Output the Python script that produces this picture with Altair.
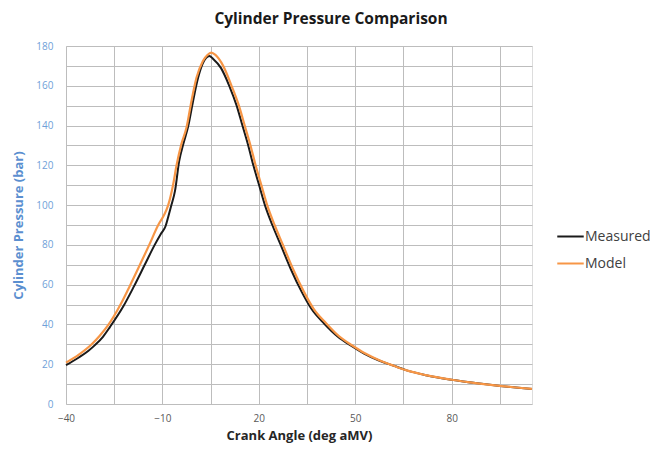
import altair as alt
import pandas as pd

# Model (orange) series
model_angle = [-40, -36, -32, -29.5, -26.9, -23.2, -20.1, -17, -14.1, -11.3, -9.5, -8.2, -6.7,
               -5.6, -4.1, -2.5, -1, 0.6, 2.6, 4, 5.2, 6.5, 8.9, 11.5, 13.8, 15.6, 17.4, 19,
               20.8, 22.6, 24.9, 27.5, 30.6, 34, 37, 41, 45, 49.2, 53, 57.5, 62, 66, 72, 80,
               88, 95, 100, 105]
model_p = [20.8, 24.8, 30, 34.3, 39.6, 49.5, 59.5, 70, 80, 90, 95, 100, 110,
           120, 130.7, 139, 152, 164, 172.5, 175.5, 176.7, 175.5, 170, 160, 150, 140, 130, 120,
           110, 100, 90, 80, 68, 56.5, 48, 40.5, 34, 29.3, 25.5, 22, 19.2, 16.9, 14.5, 12.2,
           10.4, 9.1, 8.3, 7.6]

# Measured (black) series
meas_angle = [-40, -36, -33, -31, -28.5, -26.3, -22.2, -18.9, -15.5, -12.4, -10.5, -9, -8.2,
              -7.2, -6.1, -4.8, -3.5, -2, -0.5, 1.1, 2.5, 3.6, 4.6, 5.8, 8.2, 10.8, 13.1, 14.9,
              16.7, 18.3, 20.1, 21.9, 24.2, 26.8, 29.9, 33.3, 36.3, 40.3, 44.5, 48.7, 52.6,
              57.2, 62, 66, 72, 80, 88, 95, 100, 105]
meas_p = [19.5, 23.4, 26.8, 29.6, 33.8, 38.8, 49, 59, 70, 80, 85.5, 89.5, 94,
          100, 107, 122, 130.7, 139.5, 152, 164, 171, 174, 175, 173.5, 169, 160, 150, 140,
          130, 120, 110, 100, 90, 80, 68, 56.5, 48, 40.5, 34, 29.3, 25.5,
          22, 19.2, 16.9, 14.5, 12.2, 10.4, 9.1, 8.3, 7.6]

series_names = ["Measured", "Model"]
series_colors = ["#1a1a1a", "#F79646"]

rows = []
for a, v in zip(meas_angle, meas_p):
    rows.append({"angle": a, "pressure": v, "series": "Measured"})
for a, v in zip(model_angle, model_p):
    rows.append({"angle": a, "pressure": v, "series": "Model"})
df = pd.DataFrame(rows)

FONT = "Open Sans"

x_enc = alt.X("angle:Q",
              scale=alt.Scale(domain=[-40, 105], nice=False, zero=False),
              axis=alt.Axis(values=list(range(-40, 106, 15)),
                            labelExpr="(datum.value + 40) % 30 == 0 ? datum.label : ''",
                            title="Crank Angle (deg aMV)", ticks=False, domain=False,
                            gridColor="#bdbdbd", gridWidth=1,
                            labelColor="#595959", labelFontSize=10, labelFont=FONT,
                            labelPadding=9, labelFlush=False,
                            titleFont=FONT, titleFontSize=13, titleFontWeight="bold",
                            titleColor="#262626", titlePadding=6))
y_enc = alt.Y("pressure:Q",
              scale=alt.Scale(domain=[0, 180], nice=False),
              axis=alt.Axis(values=list(range(0, 181, 10)),
                            labelExpr="datum.value % 20 == 0 ? datum.label : ''",
                            title="Cylinder Pressure (bar)", ticks=False, domain=False,
                            gridColor="#bdbdbd", gridWidth=1,
                            labelColor="#6f9fd8", labelFontSize=10, labelFont=FONT,
                            labelPadding=13,
                            titleFont=FONT, titleFontSize=13, titleFontWeight="bold",
                            titleColor="#5b8fd0", titlePadding=10))
color_enc = alt.Color("series:N",
                      scale=alt.Scale(domain=series_names, range=series_colors),
                      legend=alt.Legend(title=None, orient="none", legendX=490, legendY=176,
                                        symbolType="stroke", symbolSize=700,
                                        symbolStrokeWidth=2, labelFont=FONT,
                                        labelFontSize=14, labelColor="#404040",
                                        labelOffset=0, rowPadding=5))

base = alt.Chart(df)
meas = base.transform_filter(alt.datum.series == "Measured").mark_line(
    strokeWidth=2, interpolate="monotone").encode(x=x_enc, y=y_enc, color=color_enc)
mod = base.transform_filter(alt.datum.series == "Model").mark_line(
    strokeWidth=2.2, interpolate="monotone").encode(x=x_enc, y=y_enc, color=color_enc)

chart = alt.layer(meas, mod).properties(
    width=466, height=358,
    title=alt.TitleParams("Cylinder Pressure Comparison", font=FONT, fontSize=15.5,
                          fontWeight="bold", color="#1a1a1a", anchor="middle",
                          dx=32, offset=14),
    autosize=alt.AutoSizeParams(type="none"),
    padding={"left": 66, "top": 46, "right": 121, "bottom": 50},
).configure_view(fill="#d9d9d9", stroke="#a6a6a6", strokeWidth=1.5
).configure(background="white")

chart.save("out.html", embed_options={"renderer": "svg", "actions": False})
